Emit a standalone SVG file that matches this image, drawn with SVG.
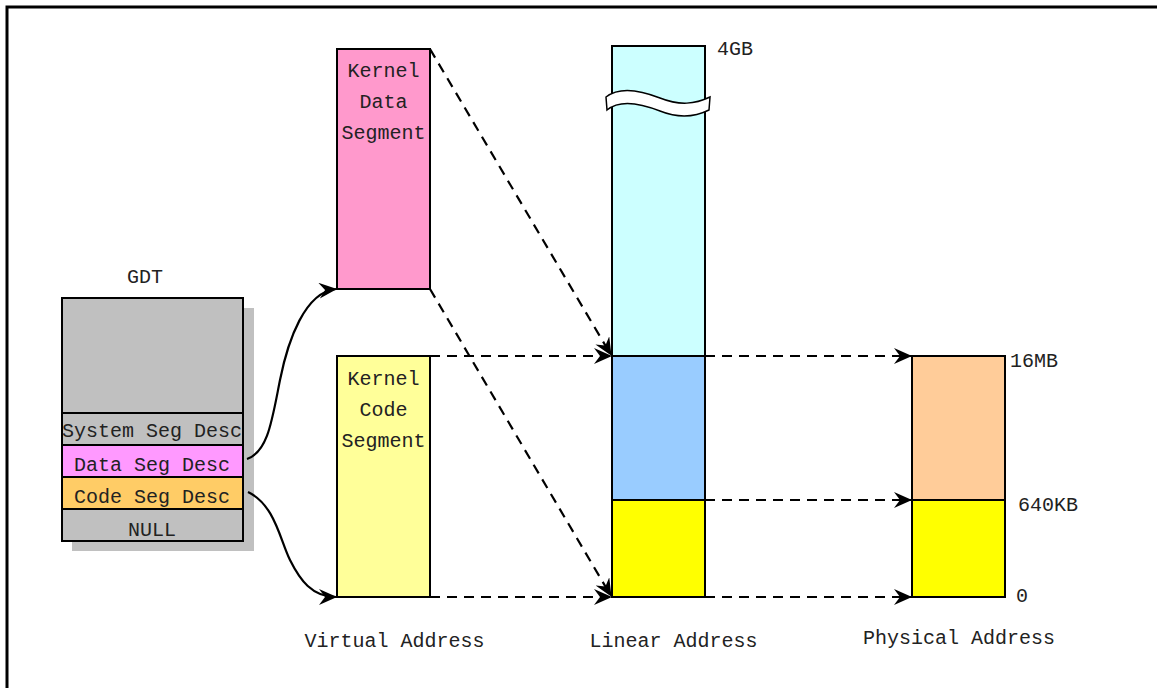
<svg xmlns="http://www.w3.org/2000/svg" width="1157" height="688" viewBox="0 0 1157 688">
<style>
  text { font-family: "Liberation Mono", "DejaVu Sans Mono", monospace; font-size: 20px; fill: #222; }
  .box { stroke: #000; stroke-width: 2; }
  .dash { fill: none; stroke: #000; stroke-width: 2.2; stroke-dasharray: 10 7; }
  .solid { fill: none; stroke: #000; stroke-width: 2.2; }
</style>
<defs>
  <marker id="arr" viewBox="0 0 18 16" refX="17" refY="8" markerWidth="18" markerHeight="16" markerUnits="userSpaceOnUse" orient="auto">
    <path d="M0,0 L18,8 L0,16 L6,8 Z" fill="#000"/>
  </marker>
</defs>
<rect width="1157" height="688" fill="#fff"/>
<path d="M7,688 V7 H1157" fill="none" stroke="#000" stroke-width="3"/>

<g id="gdt">
  <text x="145" y="283" text-anchor="middle">GDT</text>
  <rect x="72" y="308" width="182" height="243" fill="#c0c0c0"/>
  <rect class="box" x="62" y="298" width="181" height="115" fill="#c0c0c0"/>
  <rect class="box" x="62" y="413" width="181" height="32" fill="#c0c0c0"/>
  <rect class="box" x="62" y="445" width="181" height="32" fill="#ff99ff"/>
  <rect class="box" x="62" y="477" width="181" height="32" fill="#ffcc66"/>
  <rect class="box" x="62" y="509" width="181" height="32" fill="#c0c0c0"/>
  <text x="152" y="437" text-anchor="middle">System Seg Desc</text>
  <text x="152" y="471" text-anchor="middle">Data Seg Desc</text>
  <text x="152" y="503" text-anchor="middle">Code Seg Desc</text>
  <text x="152" y="536" text-anchor="middle">NULL</text>
</g>

<g id="kernel-data">
  <rect class="box" x="337" y="49" width="93" height="240" fill="#ff99cc"/>
  <text x="383.5" y="77" text-anchor="middle">Kernel</text>
  <text x="383.5" y="108" text-anchor="middle">Data</text>
  <text x="383.5" y="139" text-anchor="middle">Segment</text>
</g>

<g id="kernel-code">
  <rect class="box" x="337" y="356" width="93" height="241" fill="#ffff99"/>
  <text x="383.5" y="385" text-anchor="middle">Kernel</text>
  <text x="383.5" y="416" text-anchor="middle">Code</text>
  <text x="383.5" y="447" text-anchor="middle">Segment</text>
</g>

<g id="linear">
  <rect class="box" x="612" y="46" width="93" height="310" fill="#ccffff"/>
  <rect class="box" x="612" y="356" width="93" height="144" fill="#99ccff"/>
  <rect class="box" x="612" y="500" width="93" height="97" fill="#ffff00"/>
  <path d="M606,97 C620,86 640,90 660,98 C680,106 695,104 710,97 L709,110 C695,117 680,119 660,111 C640,103 620,99 607,110 Z" fill="#fff" stroke="#000" stroke-width="1.5"/>
  <text x="717" y="55">4GB</text>
</g>

<g id="physical">
  <rect class="box" x="912" y="356" width="93" height="144" fill="#ffcc99"/>
  <rect class="box" x="912" y="500" width="93" height="97" fill="#ffff00"/>
  <text x="1010" y="367">16MB</text>
  <text x="1018" y="511">640KB</text>
  <text x="1016" y="602">0</text>
</g>

<g id="labels">
  <text x="394.5" y="647" text-anchor="middle">Virtual Address</text>
  <text x="673.5" y="647" text-anchor="middle">Linear Address</text>
  <text x="959" y="644" text-anchor="middle">Physical Address</text>
</g>

<g id="connectors">
  <path class="solid" d="M247,459 C268,452 272,420 280,380 S305,292 336,289" marker-end="url(#arr)"/>
  <path class="solid" d="M248,492 C275,505 280,540 290,560 S312,597 336,597" marker-end="url(#arr)"/>
  <path class="dash" d="M430,49 L611,355" marker-end="url(#arr)"/>
  <path class="dash" d="M430,289 L611,596" marker-end="url(#arr)"/>
  <path class="dash" d="M430,356 H611" marker-end="url(#arr)"/>
  <path class="dash" d="M430,597 H611" marker-end="url(#arr)"/>
  <path class="dash" d="M705,356 H911" marker-end="url(#arr)"/>
  <path class="dash" d="M705,500 H911" marker-end="url(#arr)"/>
  <path class="dash" d="M705,597 H911" marker-end="url(#arr)"/>
</g>
</svg>
